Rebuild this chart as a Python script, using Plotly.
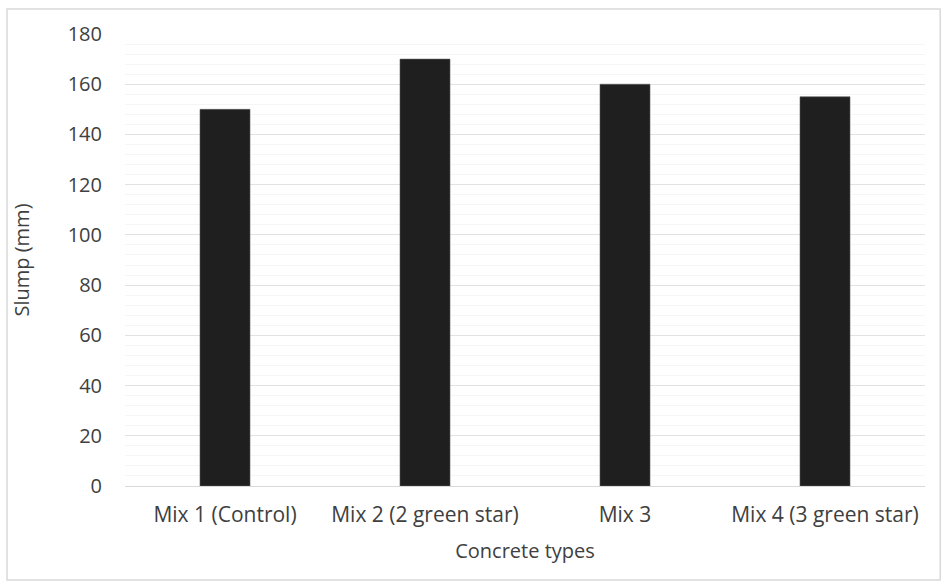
import plotly.graph_objects as go

categories = ["Mix 1 (Control)", "Mix 2 (2 green star)", "Mix 3", "Mix 4 (3 green star)"]
slump_mm = [150, 170, 160, 155]
y_ticks = [0, 20, 40, 60, 80, 100, 120, 140, 160, 180]

FONT = "Open Sans, sans-serif"
TXT = "#404040"
FS = 20

fig = go.Figure()
fig.add_trace(go.Bar(
    x=categories, y=slump_mm,
    marker=dict(color="#1f1f1f", line=dict(color="#5a5a5a", width=0.6)),
    width=0.25,
))

fig.update_layout(
    width=942, height=583,
    margin=dict(l=125, r=17, t=34, b=97),
    paper_bgcolor="white", plot_bgcolor="white",
    font=dict(family=FONT, size=FS, color=TXT),
    showlegend=False,
    shapes=[dict(type="rect", xref="paper", yref="paper",
                 x0=-0.1475, x1=1.019, y0=-0.208, y1=1.0553,
                 line=dict(color="#d9d9d9", width=1.5), layer="below")],
)
fig.update_xaxes(
    showgrid=False, showline=True, linecolor="#d9d9d9", linewidth=1,
    ticks="outside", ticklen=10, tickcolor="rgba(0,0,0,0)",
    tickfont=dict(size=21, color=TXT),
    title=dict(text="Concrete types", font=dict(size=FS, color=TXT), standoff=16),
)
fig.update_yaxes(
    range=[0, 180], tickvals=y_ticks,
    showgrid=True, gridcolor="#e2e2e2", gridwidth=1,
    minor=dict(dtick=4, showgrid=True, gridcolor="#f5f5f5", gridwidth=1),
    zeroline=False, showline=False,
    ticks="outside", ticklen=18, tickcolor="rgba(0,0,0,0)",
    tickfont=dict(size=FS, color=TXT),
    title=dict(text="Slump (mm)", font=dict(size=FS, color=TXT), standoff=32),
)

fig.write_html("out.html")
